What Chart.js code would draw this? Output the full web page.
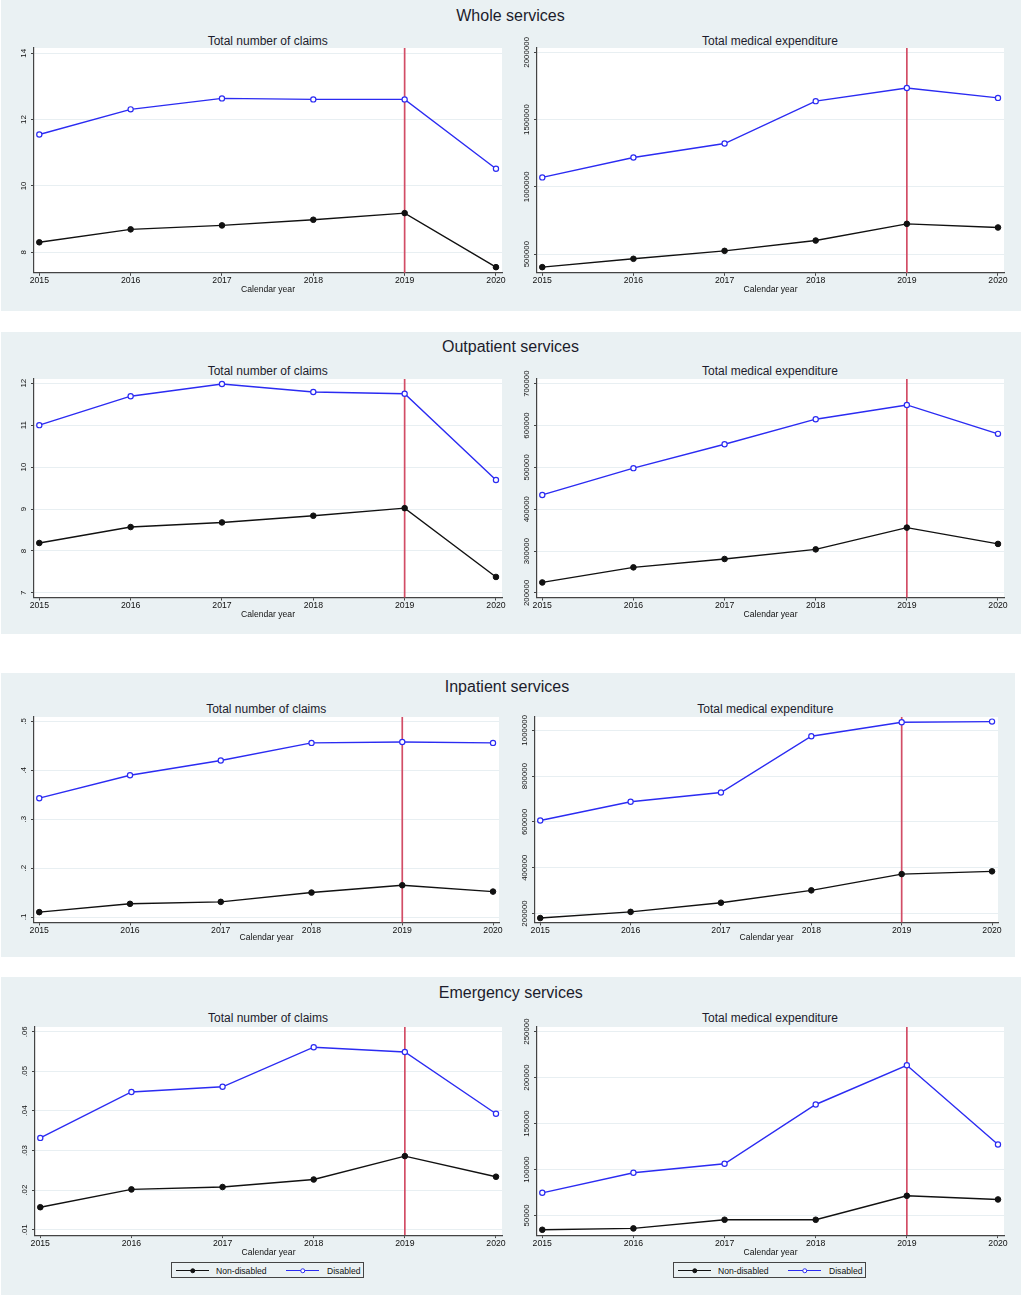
<!DOCTYPE html>
<html>
<head>
<meta charset="utf-8">
<script src="https://cdn.jsdelivr.net/npm/chart.js@4/dist/chart.umd.min.js"></script>
<style>
  html, body { margin: 0; padding: 0; background: #ffffff; }
  body { width: 1021px; height: 1296px; position: relative; overflow: hidden;
         font-family: "Liberation Sans", Arial, sans-serif; }
  .panel { position: absolute; background: #eaf1f3; }
  .ttl { position: absolute; transform: translate(-50%, -50%); white-space: nowrap;
         line-height: 1; color: #1c1c2c; }
  .ptitle { font-size: 16px; }
  .stitle { font-size: 12px; }
  canvas { position: absolute; }
  .legend { position: absolute; border: 1px solid #444; background: #eaf1f3; box-sizing: border-box; }
  .seg { position: absolute; height: 1.3px; }
  .mk { position: absolute; width: 5.5px; height: 5.5px; border-radius: 50%; box-sizing: border-box;
        left: 50%; top: 50%; transform: translate(-50%, -50%); }
  .ltxt { position: absolute; font-size: 8.6px; color: #111; line-height: 1; transform: translateY(-50%); white-space: nowrap; }
</style>
</head>
<body>
<script>
// ---------------- DATA ----------------
const years = [2015, 2016, 2017, 2018, 2019, 2020];
const seriesNames = ['Non-disabled', 'Disabled'];
const panelTitles = ['Whole services', 'Outpatient services', 'Inpatient services', 'Emergency services'];
const chartTitles = ['Total number of claims', 'Total medical expenditure'];
const xAxisTitle = 'Calendar year';
const policyYear = 2019;

// Whole services
const wholeClaimsNonDisabled = [8.30, 8.69, 8.81, 8.98, 9.18, 7.55];
const wholeClaimsDisabled    = [11.55, 12.31, 12.64, 12.61, 12.61, 10.52];
const wholeClaimsTicks       = [8, 10, 12, 14];
const wholeClaimsTickLabels  = ['8', '10', '12', '14'];
const wholeExpNonDisabled    = [403000, 465000, 524000, 601000, 725000, 698000];
const wholeExpDisabled       = [1070000, 1218000, 1322000, 1637000, 1735000, 1661000];
const wholeExpTicks          = [500000, 1000000, 1500000, 2000000];
const wholeExpTickLabels     = ['500000', '1000000', '1500000', '2000000'];

// Outpatient services
const outClaimsNonDisabled = [8.19, 8.57, 8.68, 8.84, 9.02, 7.38];
const outClaimsDisabled    = [11.00, 11.69, 11.98, 11.79, 11.75, 9.69];
const outClaimsTicks       = [7, 8, 9, 10, 11, 12];
const outClaimsTickLabels  = ['7', '8', '9', '10', '11', '12'];
const outExpNonDisabled    = [225000, 261000, 281000, 304000, 356000, 317000];
const outExpDisabled       = [434000, 498000, 555000, 615000, 649000, 580000];
const outExpTicks          = [200000, 300000, 400000, 500000, 600000, 700000];
const outExpTickLabels     = ['200000', '300000', '400000', '500000', '600000', '700000'];

// Inpatient services
const inClaimsNonDisabled = [0.110, 0.127, 0.131, 0.150, 0.165, 0.152];
const inClaimsDisabled    = [0.343, 0.390, 0.420, 0.456, 0.458, 0.456];
const inClaimsTicks       = [0.1, 0.2, 0.3, 0.4, 0.5];
const inClaimsTickLabels  = ['.1', '.2', '.3', '.4', '.5'];
const inExpNonDisabled    = [180000, 207000, 247000, 301000, 372000, 384000];
const inExpDisabled       = [606000, 688000, 728000, 974000, 1035000, 1038000];
const inExpTicks          = [200000, 400000, 600000, 800000, 1000000];
const inExpTickLabels     = ['200000', '400000', '600000', '800000', '1000000'];

// Emergency services
const emClaimsNonDisabled = [0.0157, 0.0202, 0.0208, 0.0227, 0.0286, 0.0234];
const emClaimsDisabled    = [0.0332, 0.0448, 0.0461, 0.0561, 0.0549, 0.0393];
const emClaimsTicks       = [0.01, 0.02, 0.03, 0.04, 0.05, 0.06];
const emClaimsTickLabels  = ['.01', '.02', '.03', '.04', '.05', '.06'];
const emExpNonDisabled    = [34400, 35900, 45300, 45300, 71400, 67400];
const emExpDisabled       = [74600, 96400, 106200, 170700, 213400, 127200];
const emExpTicks          = [50000, 100000, 150000, 200000, 250000];
const emExpTickLabels     = ['50000', '100000', '150000', '200000', '250000'];

// Axis ranges [min, max]
const wholeClaimsRange = [7.38, 14.16];
const wholeExpRange    = [361000, 2032000];
const outClaimsRange   = [6.89, 12.10];
const outExpRange      = [189000, 711000];
const inClaimsRange    = [0.089, 0.509];
const inExpRange       = [161000, 1058000];
const emClaimsRange    = [0.00866, 0.0612];
const emExpRange       = [28600, 255000];
const xRange           = [2014.942, 2020.066];

// ---------------- STYLE / LAYOUT ----------------
const colNon = '#111111';
const colDis = '#2b2bf2';
const colPolicy = '#d24d66';

const layout = [
  { box: [1, 0, 1020, 311], title: [510.5, 16], gap: 17,
    charts: [ { rect: [34, 48, 502, 273], sub: [267.7, 40.7] },
              { rect: [537, 48, 1004, 273], sub: [770, 40.7] } ] },
  { box: [1, 332, 1020, 302], title: [510.5, 346.7], gap: 17.3,
    charts: [ { rect: [34, 379, 502, 597], sub: [267.7, 370.7] },
              { rect: [537, 379, 1004, 597], sub: [770, 370.7] } ] },
  { box: [1, 673, 1014, 284], title: [507, 686.7], gap: 15.4,
    charts: [ { rect: [34, 717, 499, 922], sub: [266.2, 709.3] },
              { rect: [535, 717, 998, 922], sub: [765.3, 709.3] } ] },
  { box: [1, 977, 1020, 318], title: [510.8, 993.3], gap: 17.7,
    charts: [ { rect: [35, 1027, 502, 1235], sub: [268, 1018.3] },
              { rect: [537, 1027, 1004, 1235], sub: [770, 1018.3] } ],
    legends: [ [171, 1262], [673, 1262] ] }
];

const panelData = [
  [ { non: wholeClaimsNonDisabled, dis: wholeClaimsDisabled, ticks: wholeClaimsTicks, labels: wholeClaimsTickLabels, range: wholeClaimsRange },
    { non: wholeExpNonDisabled, dis: wholeExpDisabled, ticks: wholeExpTicks, labels: wholeExpTickLabels, range: wholeExpRange } ],
  [ { non: outClaimsNonDisabled, dis: outClaimsDisabled, ticks: outClaimsTicks, labels: outClaimsTickLabels, range: outClaimsRange },
    { non: outExpNonDisabled, dis: outExpDisabled, ticks: outExpTicks, labels: outExpTickLabels, range: outExpRange } ],
  [ { non: inClaimsNonDisabled, dis: inClaimsDisabled, ticks: inClaimsTicks, labels: inClaimsTickLabels, range: inClaimsRange },
    { non: inExpNonDisabled, dis: inExpDisabled, ticks: inExpTicks, labels: inExpTickLabels, range: inExpRange } ],
  [ { non: emClaimsNonDisabled, dis: emClaimsDisabled, ticks: emClaimsTicks, labels: emClaimsTickLabels, range: emClaimsRange },
    { non: emExpNonDisabled, dis: emExpDisabled, ticks: emExpTicks, labels: emExpTickLabels, range: emExpRange } ]
];

Chart.defaults.font.family = '"Liberation Sans", Arial, sans-serif';
Chart.defaults.color = '#111';

const plotBg = {
  id: 'plotBg',
  beforeDraw(chart) {
    const a = chart.chartArea, ctx = chart.ctx;
    ctx.save(); ctx.fillStyle = '#ffffff';
    ctx.fillRect(a.left, a.top, a.right - a.left, a.bottom - a.top);
    ctx.restore();
  }
};
const policyLine = {
  id: 'policyLine',
  beforeDatasetsDraw(chart) {
    const a = chart.chartArea, ctx = chart.ctx;
    const px = chart.scales.x.getPixelForValue(policyYear);
    ctx.save(); ctx.strokeStyle = colPolicy; ctx.lineWidth = 1.7;
    ctx.beginPath(); ctx.moveTo(px, a.top); ctx.lineTo(px, a.bottom); ctx.stroke();
    ctx.restore();
  }
};
const yLabels = {
  id: 'yLabels',
  afterDraw(chart, args, opts) {
    const s = chart.scales.y, ctx = chart.ctx;
    ctx.save();
    ctx.font = '7.9px "Liberation Sans", Arial, sans-serif';
    ctx.fillStyle = '#111'; ctx.textAlign = 'center'; ctx.textBaseline = 'middle';
    opts.values.forEach((v, i) => {
      const py = s.getPixelForValue(v);
      ctx.save(); ctx.translate(s.right - 10, py); ctx.rotate(-Math.PI / 2);
      ctx.fillText(opts.labels[i], 0, 0); ctx.restore();
    });
    ctx.restore();
  }
};

function addText(cls, text, x, y) {
  const d = document.createElement('div');
  d.className = 'ttl ' + cls; d.textContent = text;
  d.style.left = x + 'px'; d.style.top = y + 'px';
  document.body.appendChild(d);
}

function addLegend(x, y) {
  const lg = document.createElement('div');
  lg.className = 'legend';
  lg.style.left = x + 'px'; lg.style.top = y + 'px';
  lg.style.width = '193px'; lg.style.height = '16px';
  const items = [
    { name: seriesNames[0], col: colNon, fill: colNon, segL: 4, txtL: 44 },
    { name: seriesNames[1], col: colDis, fill: '#ffffff', segL: 114, txtL: 155 }
  ];
  items.forEach(it => {
    const seg = document.createElement('div');
    seg.className = 'seg'; seg.style.left = it.segL + 'px'; seg.style.width = '33px';
    seg.style.top = '7px'; seg.style.background = it.col;
    const mk = document.createElement('div');
    mk.className = 'mk'; mk.style.background = it.fill; mk.style.border = '1px solid ' + it.col;
    seg.appendChild(mk);
    lg.appendChild(seg);
    const t = document.createElement('div');
    t.className = 'ltxt'; t.textContent = it.name;
    t.style.left = it.txtL + 'px'; t.style.top = '7.5px';
    lg.appendChild(t);
  });
  document.body.appendChild(lg);
}

layout.forEach((p, pi) => {
  const bg = document.createElement('div');
  bg.className = 'panel';
  bg.style.left = p.box[0] + 'px'; bg.style.top = p.box[1] + 'px';
  bg.style.width = p.box[2] + 'px'; bg.style.height = p.box[3] + 'px';
  document.body.appendChild(bg);
  addText('ptitle', panelTitles[pi], p.title[0], p.title[1]);

  p.charts.forEach((c, ci) => {
    const d = panelData[pi][ci];
    addText('stitle', chartTitles[ci], c.sub[0], c.sub[1]);
    const [L, T, R, B] = c.rect;
    const yW = 30, padT = 24, padR = 14, padB = 2;
    const xH = p.gap + 5.2;
    const cw = Math.round(R - L + yW + padR);
    const ch = Math.round(B - T + padT + xH + padB);
    const cv = document.createElement('canvas');
    cv.width = cw; cv.height = ch;
    cv.style.width = cw + 'px'; cv.style.height = ch + 'px';
    cv.style.left = (L - yW) + 'px'; cv.style.top = (T - padT) + 'px';
    document.body.appendChild(cv);

    new Chart(cv, {
      type: 'line',
      data: {
        datasets: [
          { label: seriesNames[0], data: years.map((yr, i) => ({ x: yr, y: d.non[i] })),
            borderColor: colNon, backgroundColor: colNon, pointBackgroundColor: colNon,
            pointBorderColor: colNon, pointRadius: 2.8, pointBorderWidth: 1, borderWidth: 1.4, tension: 0 },
          { label: seriesNames[1], data: years.map((yr, i) => ({ x: yr, y: d.dis[i] })),
            borderColor: colDis, backgroundColor: colDis, pointBackgroundColor: '#ffffff',
            pointBorderColor: colDis, pointRadius: 2.6, pointBorderWidth: 1.2, borderWidth: 1.4, tension: 0 }
        ]
      },
      options: {
        responsive: false, animation: false, events: [],
        layout: { padding: { left: 0, top: padT, right: padR, bottom: padB } },
        plugins: {
          legend: { display: false }, tooltip: { enabled: false }, title: { display: false },
          yLabels: { values: d.ticks, labels: d.labels }
        },
        scales: {
          x: {
            type: 'linear', min: xRange[0], max: xRange[1],
            afterBuildTicks: s => { s.ticks = years.map(v => ({ value: v })); },
            afterFit: s => { s.height = xH; },
            ticks: { callback: v => String(v), font: { size: 8.7 }, color: '#111', padding: 0,
                     maxRotation: 0, minRotation: 0, autoSkip: false },
            grid: { drawOnChartArea: false, drawTicks: true, tickLength: 3, tickColor: '#444' },
            border: { display: true, color: '#444', width: 1.2 },
            title: { display: true, text: xAxisTitle, font: { size: 8.6 }, color: '#111', padding: 0 }
          },
          y: {
            type: 'linear', min: d.range[0], max: d.range[1],
            afterBuildTicks: s => { s.ticks = d.ticks.map(v => ({ value: v })); },
            afterFit: s => { s.width = yW; },
            ticks: { display: false },
            grid: { color: '#e8eff2', lineWidth: 1, drawTicks: true, tickLength: 3, tickColor: '#444' },
            border: { display: true, color: '#444', width: 1.2 }
          }
        }
      },
      plugins: [plotBg, policyLine, yLabels]
    });
  });

  if (p.legends) p.legends.forEach(l => addLegend(l[0], l[1]));
});
</script>
</body>
</html>
